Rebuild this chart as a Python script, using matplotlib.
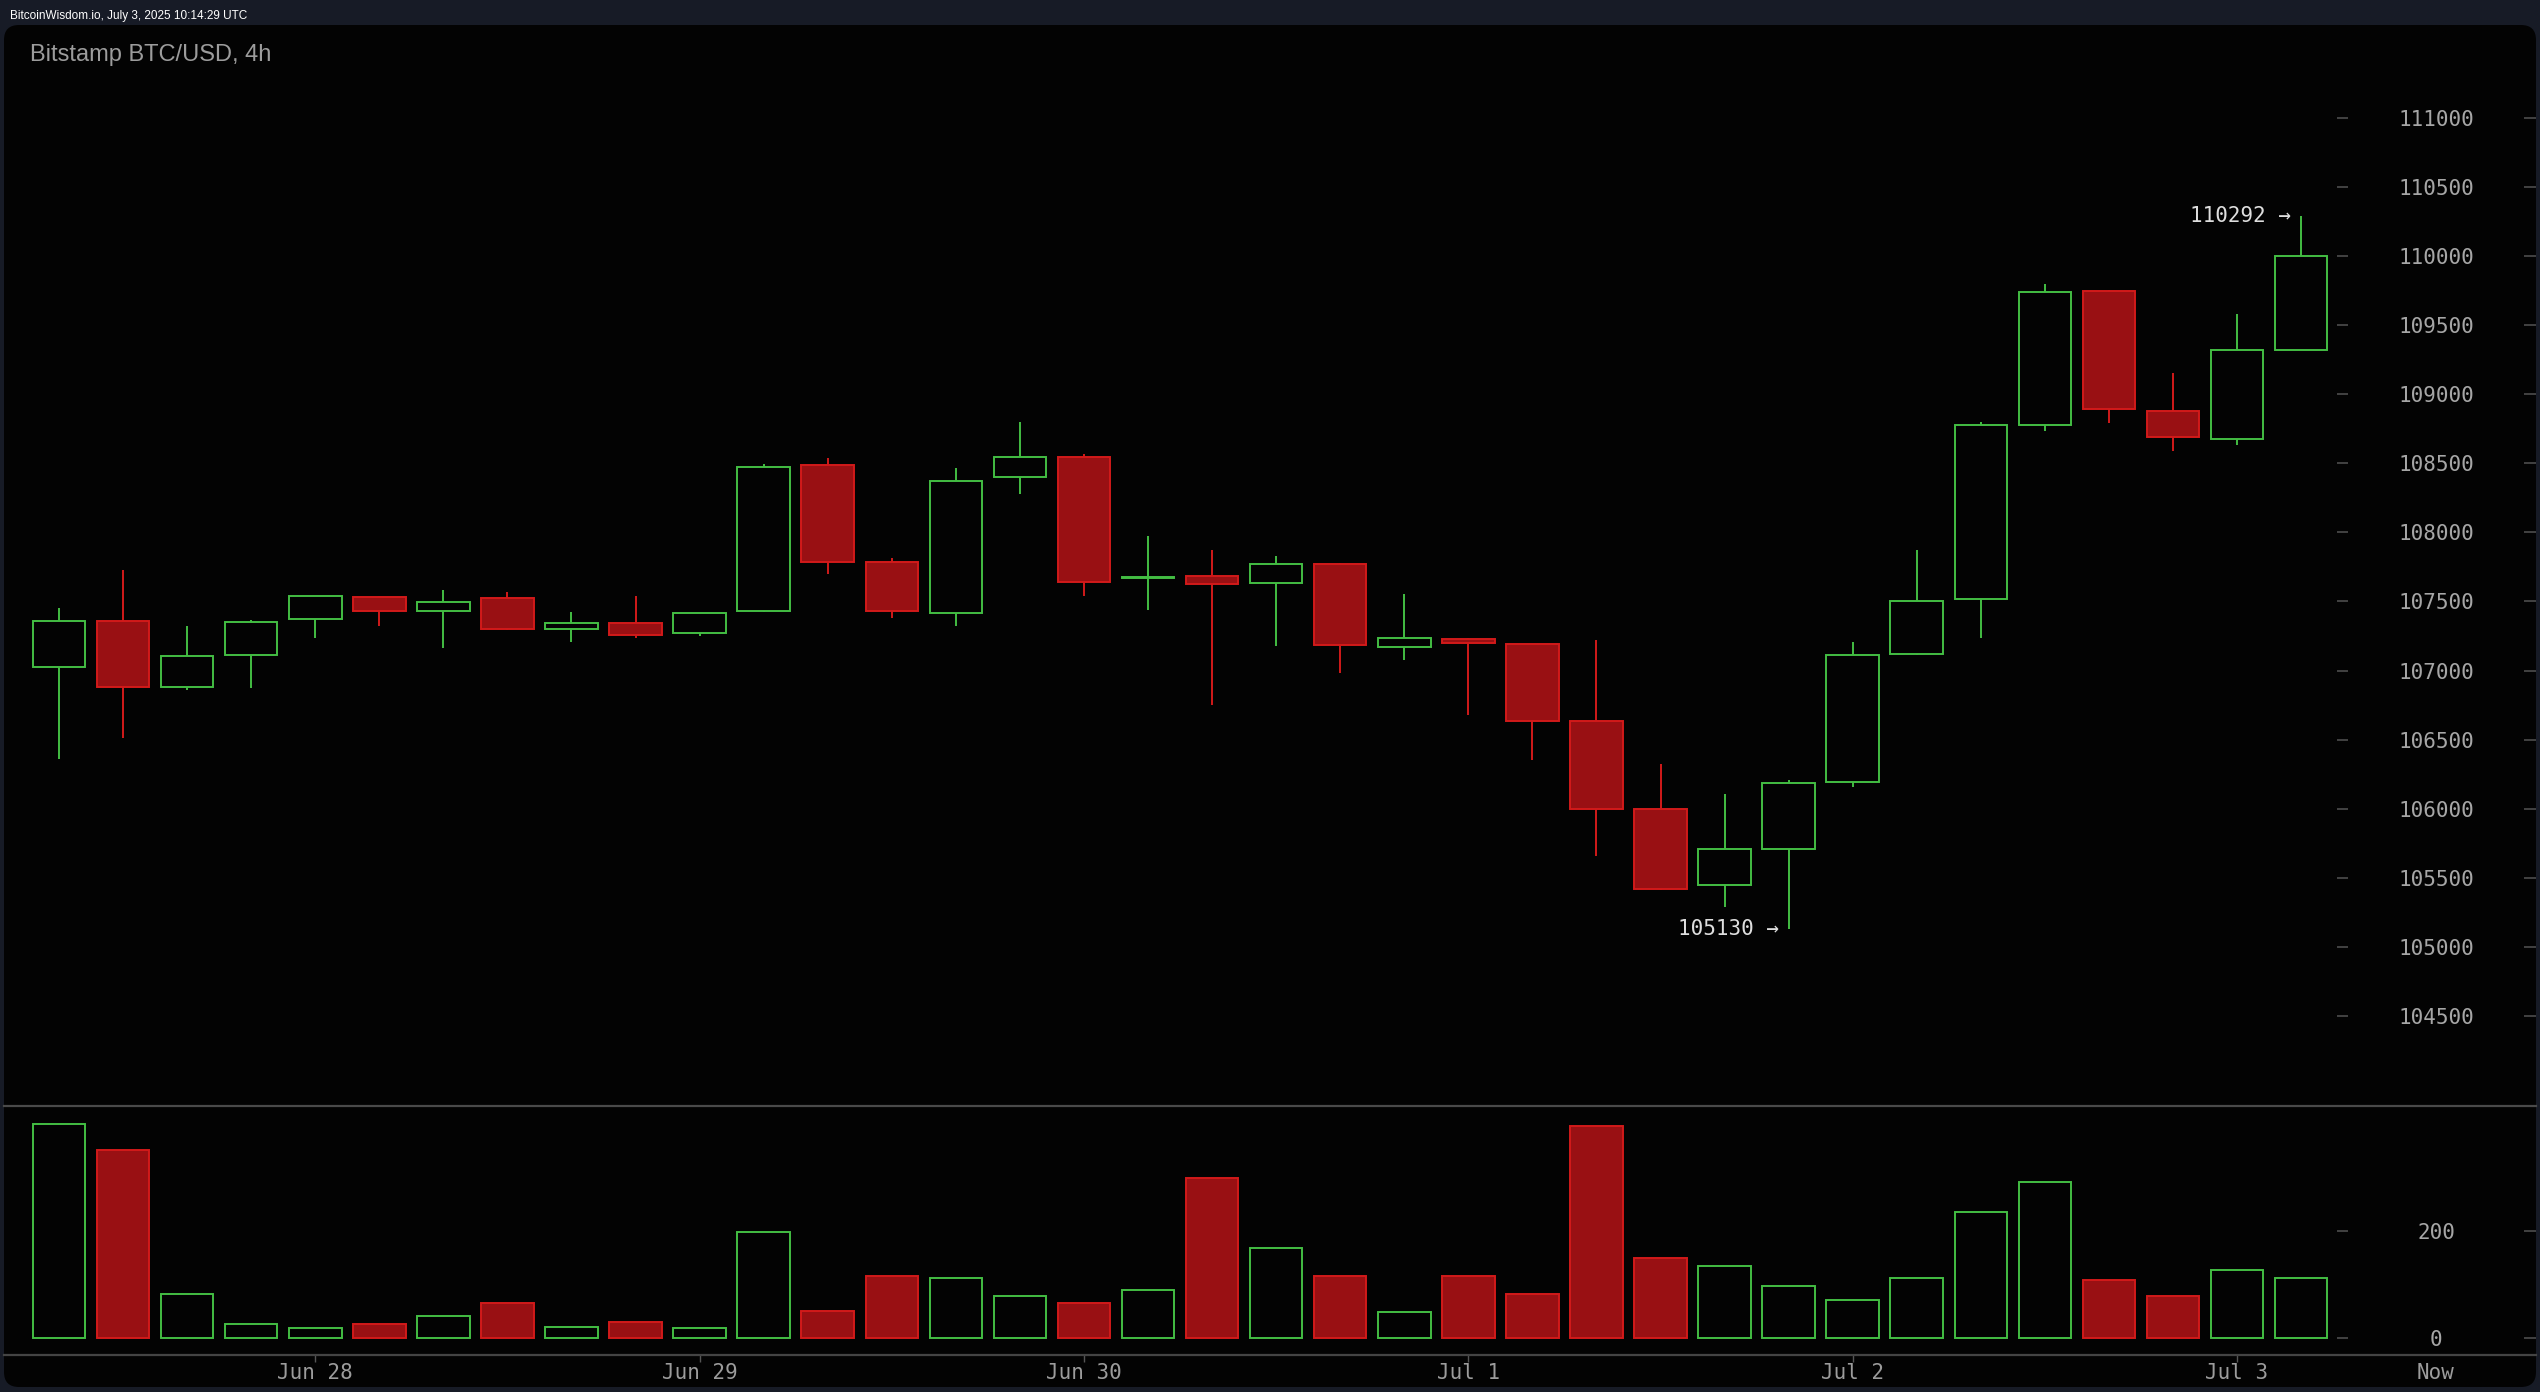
import matplotlib
matplotlib.use("Agg")
import matplotlib.pyplot as plt
from matplotlib.patches import Rectangle, FancyBboxPatch

# 4h candles, Bitstamp BTC/USD
opens = [107026, 107361, 106881, 107111, 107374, 107535, 107431, 107523, 107301, 107347,
         107270, 107431, 108490, 107788, 107415, 108400, 108549, 107668, 107682, 107634,
         107769, 107169, 107228, 107190, 106633, 105996, 105448, 105710, 106190, 107120,
         107520, 108781, 109749, 108881, 108677, 109320]
highs = [107451, 107728, 107323, 107366, 107540, 107540, 107583, 107569, 107424, 107540,
         107420, 108495, 108539, 107815, 108467, 108799, 108568, 107974, 107873, 107830,
         107775, 107556, 107236, 107195, 107221, 106325, 106105, 106210, 107206, 107871,
         108797, 109799, 109755, 109155, 109579, 110292]
lows = [106358, 106514, 106862, 106876, 107238, 107325, 107166, 107295, 107207, 107238,
        107253, 107425, 107701, 107382, 107324, 108278, 107541, 107440, 106749, 107181,
        106980, 107080, 106676, 106353, 105661, 105410, 105287, 105130, 106155, 107115,
        107235, 108731, 108789, 108586, 108632, 109317]
closes = [107361, 106881, 107103, 107349, 107538, 107429, 107494, 107301, 107347, 107255,
          107419, 108476, 107788, 107428, 108375, 108549, 107644, 107678, 107630, 107769,
          107184, 107233, 107200, 106633, 105996, 105417, 105710, 106188, 107115, 107505,
          108781, 109737, 108894, 108694, 109317, 109999]
volumes = [400, 351, 81, 25, 17.5, 25, 40, 66, 21, 29, 17.5, 197.5, 51, 115, 111, 77.5,
           66, 89, 299, 167.5, 115, 47.5, 115, 81, 396, 149, 134, 96, 70, 111, 235, 291,
           107.5, 77.5, 126, 111]

price_ticks = [104500, 105000, 105500, 106000, 106500, 107000, 107500, 108000,
               108500, 109000, 109500, 110000, 110500, 111000]
volume_ticks = [0, 200]
date_pos = [4, 10, 16, 22, 28, 34, 37.1]
date_labels = ["Jun 28", "Jun 29", "Jun 30", "Jul 1", "Jul 2", "Jul 3", "Now"]

W, H = 2540, 1392
BG = "#171b26"
GREEN = "#43be43"
RED_FILL = "#991013"
RED_EDGE = "#d21a1a"
MONO = "DejaVu Sans Mono"

fig = plt.figure(figsize=(W / 100, H / 100), dpi=100, facecolor=BG)

# black rounded panel
panel = FancyBboxPatch((4 / 100, (H - 1387) / 100), 2532 / 100, 1362 / 100,
                       boxstyle="round,pad=0,rounding_size=0.15",
                       transform=fig.dpi_scale_trans, facecolor="#030303",
                       edgecolor="none", zorder=-1)
fig.add_artist(panel)

def px_axes(x0, y0, x1, y1):
    return fig.add_axes([x0 / W, 1 - y1 / H, (x1 - x0) / W, (y1 - y0) / H])

ax_p = px_axes(4, 25, 2536, 1106)
ax_v = px_axes(4, 1106, 2536, 1355)

xlim = ((4 - 59) / 64.06, (2536 - 59) / 64.06)
for ax in (ax_p, ax_v):
    ax.set_facecolor("none")
    ax.set_xlim(*xlim)
    for s in ax.spines.values():
        s.set_visible(False)
ax_p.set_ylim(103848, 111673)
ax_v.set_ylim(-32.4, 434.3)

w = 0.82
lw = 1.4
for i, (o, h, l, c) in enumerate(zip(opens, highs, lows, closes)):
    up = c >= o
    edge = GREEN if up else RED_EDGE
    face = "#030303" if up else RED_FILL
    lo, hi = min(o, c), max(o, c)
    ax_p.vlines(i, hi, h, color=edge, lw=lw, zorder=2)
    ax_p.vlines(i, l, lo, color=edge, lw=lw, zorder=2)
    ax_p.add_patch(Rectangle((i - w / 2, lo), w, max(hi - lo, 8), facecolor=face,
                             edgecolor=edge, lw=lw, zorder=3))
    ax_v.bar(i, volumes[i], width=w, facecolor=face, edgecolor=edge, lw=lw, zorder=3)

# high / low markers
imax = highs.index(max(highs))
imin = lows.index(min(lows))
for idx, val in ((imax, highs[imax]), (imin, lows[imin])):
    ax_p.annotate(f"{val} \u2192", xy=(idx, val), xytext=(-7, 0),
                  textcoords="offset points", ha="right", va="center",
                  family=MONO, fontsize=15, color="#dedede")

# right-hand value axes
left_tick = ((2337 - 4) / 2532, (2348 - 4) / 2532)
for ax, ticks in ((ax_p, price_ticks), (ax_v, volume_ticks)):
    ax.yaxis.tick_right()
    ax.set_yticks(ticks)
    ax.set_yticklabels([str(t) for t in ticks])
    ax.tick_params(axis="y", direction="in", length=8.6, width=1.2, color="#4d4d4d",
                   pad=-72, labelsize=15, labelcolor="#a6a6a6")
    for lbl in ax.get_yticklabels():
        lbl.set_horizontalalignment("center")
        lbl.set_family(MONO)
    ax.hlines(ticks, *left_tick, transform=ax.get_yaxis_transform(),
              color="#4d4d4d", lw=1.2)

ax_p.set_xticks([])

# separator and time axis
ax_v.spines["top"].set_visible(True)
ax_v.spines["top"].set_color("#4a4a4a")
ax_v.spines["top"].set_linewidth(1.6)
ax_v.spines["bottom"].set_visible(True)
ax_v.spines["bottom"].set_color("#444444")
ax_v.spines["bottom"].set_linewidth(1.6)
ax_v.set_xticks(date_pos)
ax_v.set_xticklabels(date_labels)
ax_v.tick_params(axis="x", direction="out", length=5, width=1, color="#555555",
                 pad=1, labelsize=15, labelcolor="#9c9c9c")
for lbl in ax_v.get_xticklabels():
    lbl.set_family(MONO)
ax_v.xaxis.get_major_ticks()[-1].tick1line.set_visible(False)

fig.text(10 / W, 1 - 18.5 / H, "BitcoinWisdom.io, July 3, 2025 10:14:29 UTC",
         fontsize=8.5, color="white", family="Liberation Sans", va="baseline")
fig.text(30 / W, 1 - 60.5 / H, "Bitstamp BTC/USD, 4h", fontsize=17,
         color="#9c9c9c", family="Liberation Sans", va="baseline")

fig.savefig("out.png", dpi=100, facecolor=BG)
